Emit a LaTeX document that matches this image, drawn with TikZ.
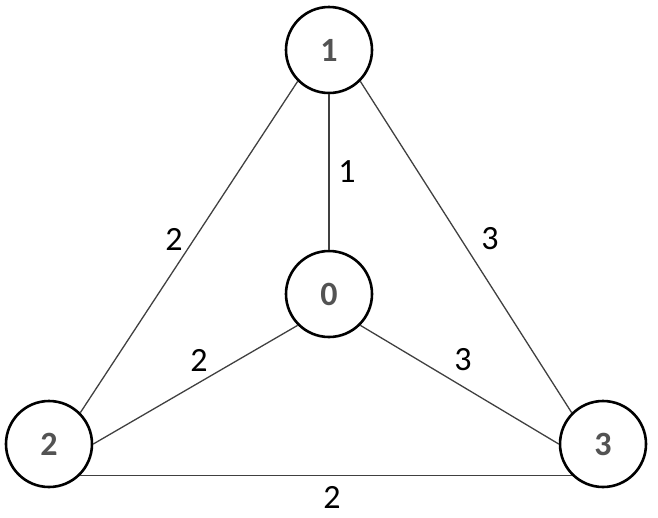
\documentclass[tikz,border=0pt]{standalone}
\usepackage{fontspec}
\setmainfont{Carlito}
\usepackage{tikz}

\begin{document}
\begin{tikzpicture}[x = 1pt, y = -1pt,
  vertex/.style = {draw, circle, line width = 2.6pt, minimum size = 86pt,
    inner sep = 0pt, text = gray!65!black, font = \fontsize{34}{40}\selectfont\bfseries},
  edge/.style = {line width = 1.3pt, color = black!75},
  weight/.style = {inner sep = 0pt, font = \fontsize{34}{40}\selectfont}]
\useasboundingbox (0, 0) rectangle (658, 517);
\node (v1) at (329, 50) [vertex] {1};
\node (v0) at (329, 294) [vertex] {0};
\node (v2) at (49, 444) [vertex] {2};
\node (v3) at (603, 444) [vertex] {3};
\draw [edge] (v1.south) to (v0.north);
\draw [edge] (v1.south west) to (v2.north east);
\draw [edge] (v1.south east) to (v3.north west);
\draw [edge] (v0.south west) to (v2.east);
\draw [edge] (v0.south east) to (v3.west);
\draw [edge] (v2.south east) to (v3.south west);
%\node at (329, 172) [right] {1};
\node (w10) at (347, 172) [weight] {1};
\node (w12) at (174, 239) [weight] {2};
\node (w13) at (490, 239) [weight] {3};
\node (w02) at (199, 360) [weight] {2};
\node (w03) at (463, 360) [weight] {3};
\node (w23) at (332, 497) [weight] {2};
\end{tikzpicture}
\end{document}
